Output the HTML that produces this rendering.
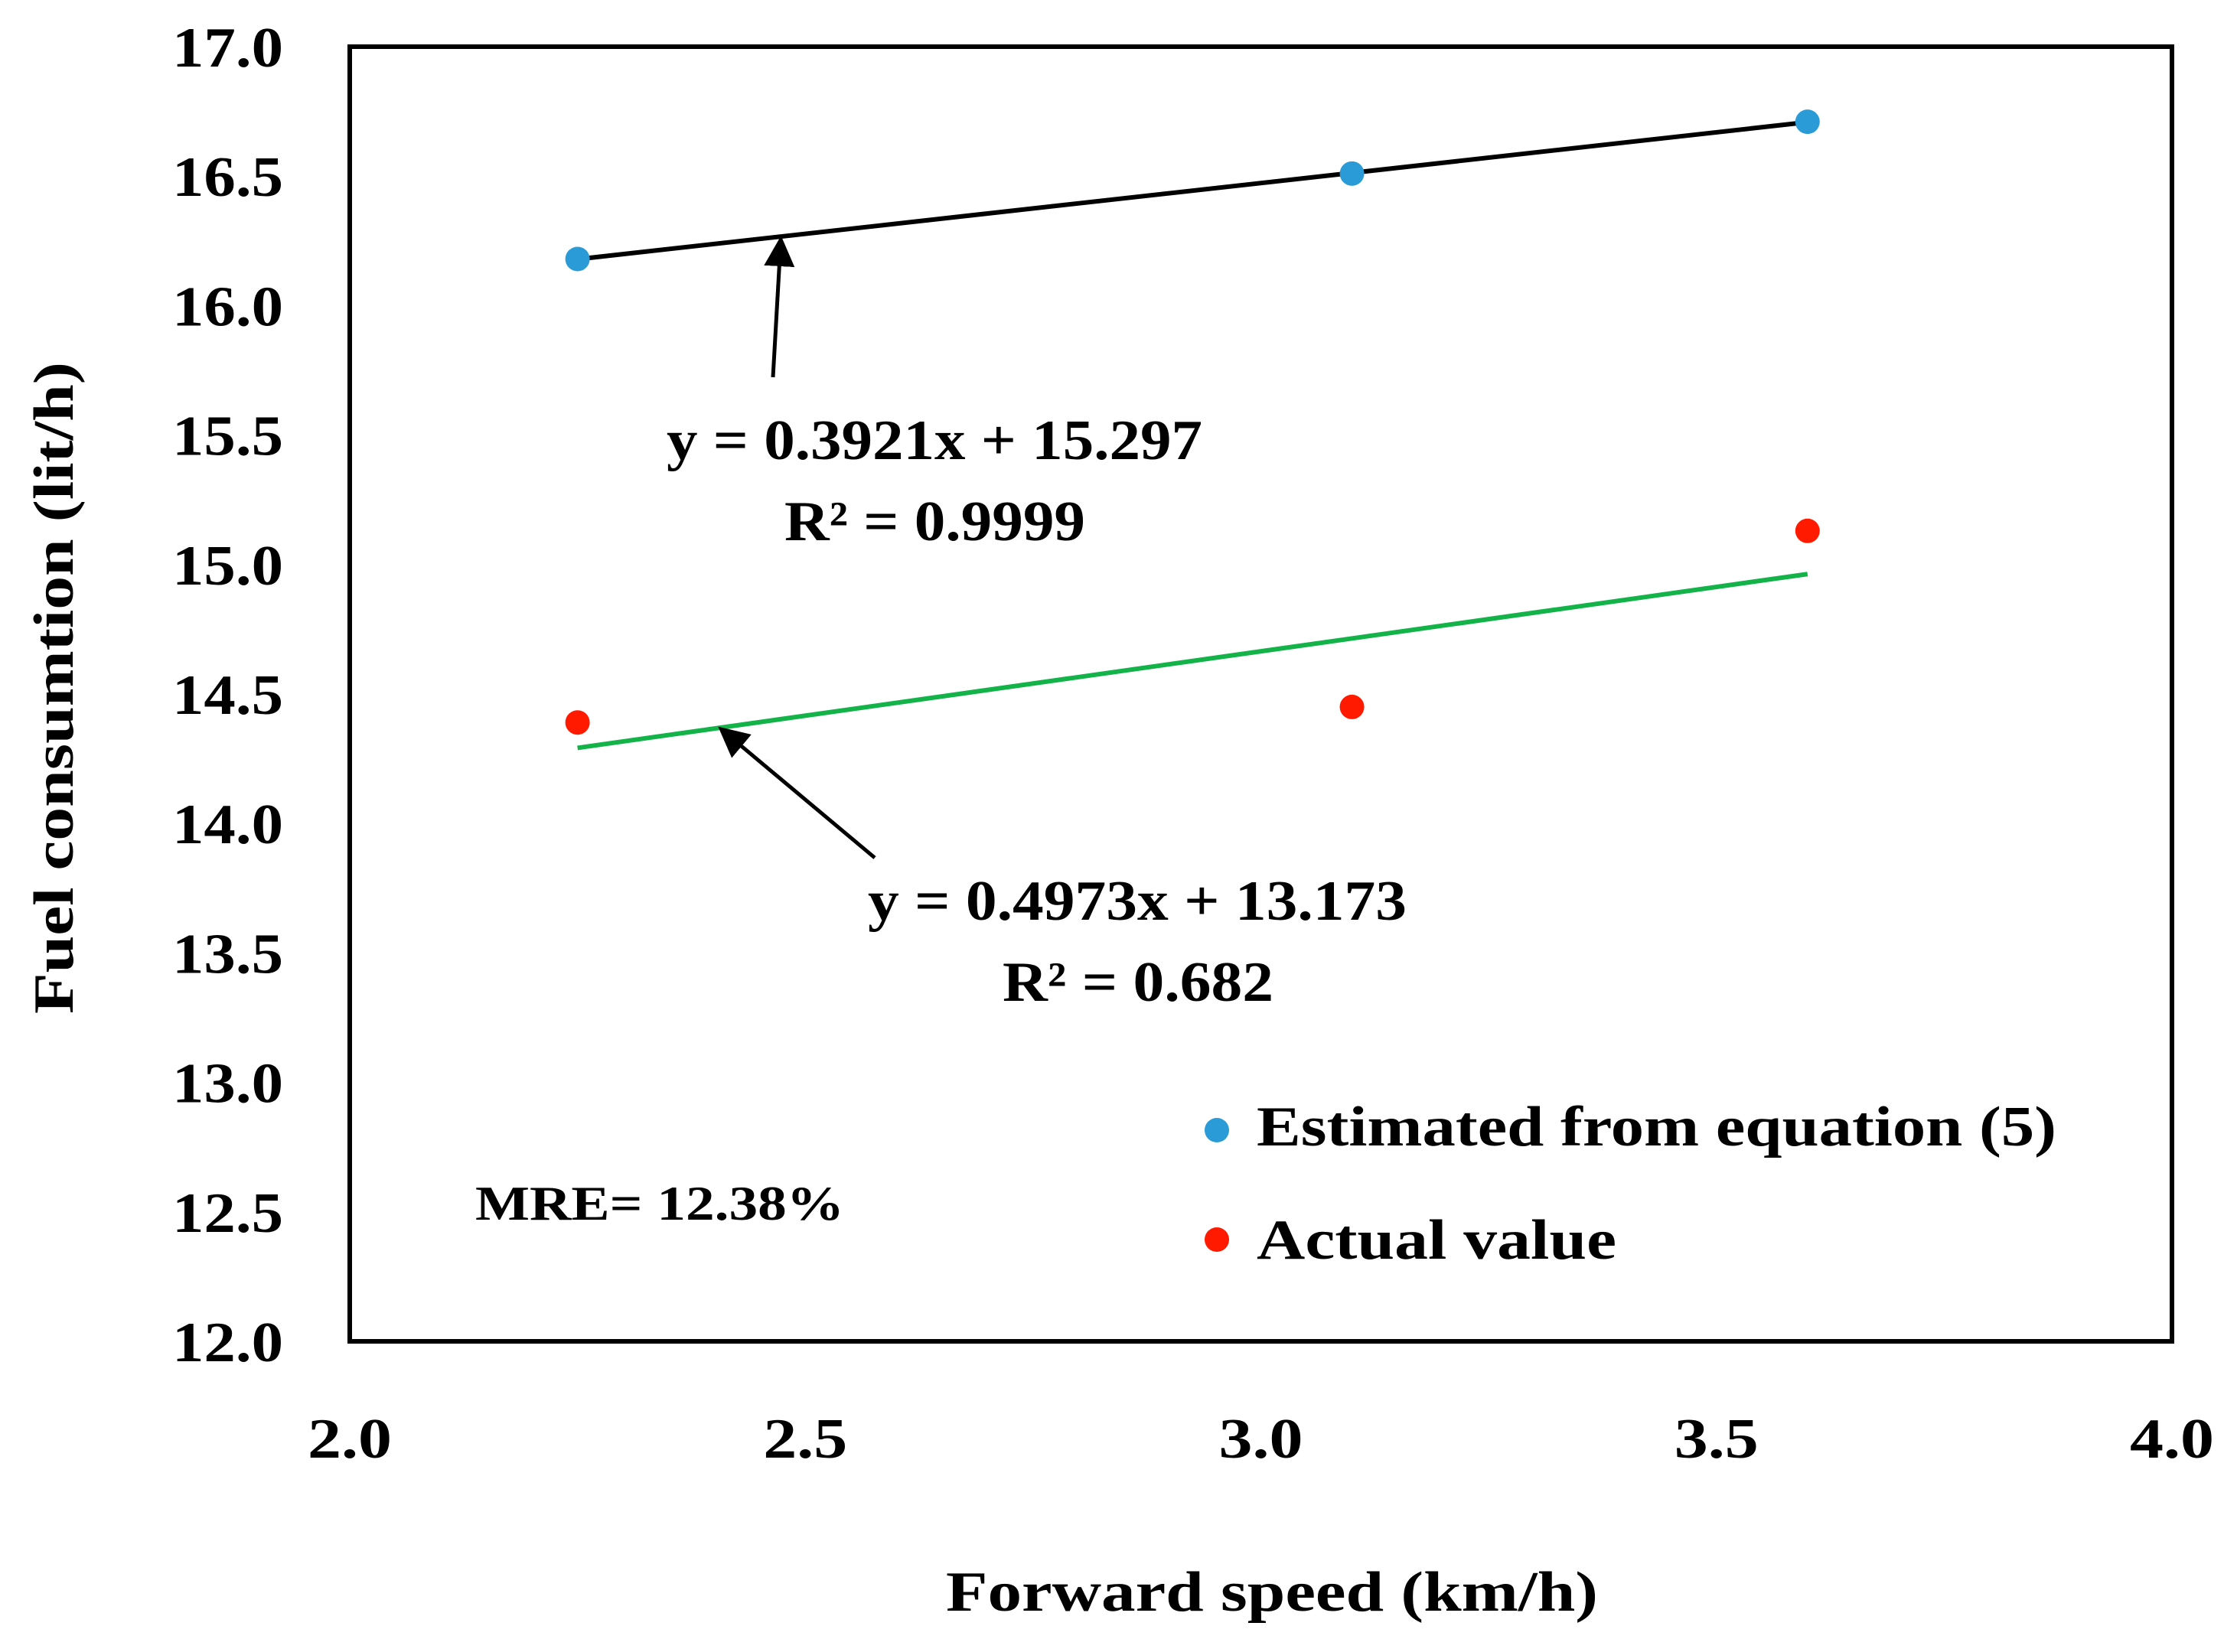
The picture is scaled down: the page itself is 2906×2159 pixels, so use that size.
<!DOCTYPE html>
<html><head><meta charset="utf-8"><style>
html,body{margin:0;padding:0;background:#fff;}
svg{display:block;font-family:"Liberation Serif",serif;font-weight:bold;}
</style></head><body>
<svg id="chart" width="2906" height="2159" viewBox="0 0 2906 2159">
<defs><marker id="ah" markerWidth="8" markerHeight="8" refX="6" refY="4" orient="auto" markerUnits="strokeWidth"><path d="M0,0 L8,4 L0,8 Z" fill="#000"/></marker></defs>
<rect x="457" y="61" width="2381" height="1692" fill="none" stroke="#000" stroke-width="6"/>
<g id="yt"></g><g id="xt"></g><g id="lines"></g><g id="pts"></g>
<text x="1236" y="2105" font-size="74" textLength="852" lengthAdjust="spacingAndGlyphs">Forward speed  (km/h)</text>
<text transform="translate(95,899) rotate(-90)" x="-426" y="0" font-size="74" textLength="852" lengthAdjust="spacingAndGlyphs">Fuel consumtion (lit/h)</text>
<text x="871" y="600" font-size="74" textLength="700" lengthAdjust="spacingAndGlyphs">y = 0.3921x + 15.297</text>
<text x="1025" y="706" font-size="74" textLength="393" lengthAdjust="spacingAndGlyphs">R² = 0.9999</text>
<text x="1134" y="1202" font-size="74" textLength="704" lengthAdjust="spacingAndGlyphs">y = 0.4973x + 13.173</text>
<text x="1310" y="1308" font-size="74" textLength="354" lengthAdjust="spacingAndGlyphs">R² = 0.682</text>
<text x="621" y="1594" font-size="64" textLength="482" lengthAdjust="spacingAndGlyphs">MRE= 12.38%</text>
<line x1="1010" y1="493" x2="1020" y2="318" stroke="#000" stroke-width="5" marker-end="url(#ah)"/>
<line x1="1143" y1="1121" x2="946" y2="956" stroke="#000" stroke-width="5" marker-end="url(#ah)"/>
<circle cx="1590" cy="1477" r="16" fill="#2b9bd8"/>
<text x="1642" y="1497" font-size="74" textLength="1045" lengthAdjust="spacingAndGlyphs">Estimated from equation (5)</text>
<circle cx="1590" cy="1620" r="16" fill="#ff1a00"/>
<text x="1642" y="1645" font-size="74" textLength="470" lengthAdjust="spacingAndGlyphs">Actual value</text>
</svg>
<script>
const xValues = [2.25, 3.1, 3.6];
const estimated = [16.18, 16.51, 16.71];
const actual = [14.39, 14.45, 15.13];
const yTicks = ["12.0","12.5","13.0","13.5","14.0","14.5","15.0","15.5","16.0","16.5","17.0"];
const xTicks = ["2.0","2.5","3.0","3.5","4.0"];
const fitEst = [0.3921, 15.297];
const fitAct = [0.4973, 13.173];
const NS="http://www.w3.org/2000/svg";
const X0=457,X1=2838,Y0=1753,Y1=61;
const sx=v=>X0+(v-2)/(4-2)*(X1-X0);
const sy=v=>Y0-(v-12)/(17-12)*(Y0-Y1);
function mk(tag,attrs,parent){const e=document.createElementNS(NS,tag);for(const k in attrs)e.setAttribute(k,attrs[k]);document.getElementById(parent).appendChild(e);return e;}
yTicks.forEach(t=>{const e=mk('text',{x:370,y:sy(+t)+26,'text-anchor':'end','font-size':74,textLength:145,lengthAdjust:'spacingAndGlyphs'},'yt');e.textContent=t;

});
xTicks.forEach(t=>{const e=mk('text',{x:sx(+t)-55,y:1905,'font-size':74,textLength:110,lengthAdjust:'spacingAndGlyphs'},'xt');e.textContent=t;

});
const xa=xValues[0],xb=xValues[xValues.length-1];
const l1=mk('line',{x1:sx(xa),y1:sy(fitEst[0]*xa+fitEst[1]),x2:sx(xb),y2:sy(fitEst[0]*xb+fitEst[1]),stroke:'#000','stroke-width':6},'lines');


const l2=mk('line',{x1:sx(xa),y1:sy(fitAct[0]*xa+fitAct[1]),x2:sx(xb),y2:sy(fitAct[0]*xb+fitAct[1]),stroke:'#13b34a','stroke-width':6},'lines');


xValues.forEach((x,i)=>{
const a=mk('circle',{cx:sx(x),cy:sy(estimated[i]),r:16,fill:'#2b9bd8'},'pts');


const b=mk('circle',{cx:sx(x),cy:sy(actual[i]),r:16,fill:'#ff1a00'},'pts');


});
</script>
</body></html>
